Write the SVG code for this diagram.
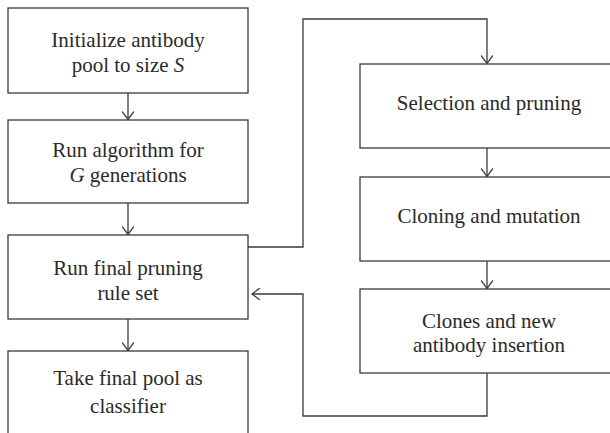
<svg xmlns="http://www.w3.org/2000/svg" width="610" height="433" viewBox="0 0 610 433">
<style>
.box{fill:#fff;stroke:#3a3a3a;stroke-width:1.3}
.t{font-family:'Liberation Serif','DejaVu Serif',serif;font-size:21px;fill:#2a2a2a;text-anchor:middle}
.c{fill:none;stroke:#3a3a3a;stroke-width:1.3}
.ah{fill:none;stroke:#3a3a3a;stroke-width:1.3}
</style>
<defs>
<marker id="arr" viewBox="-10 -6 12 12" refX="0" refY="0" markerWidth="12" markerHeight="12" markerUnits="userSpaceOnUse" orient="auto">
<path d="M-8,-6 L0,0 L-8,6" class="ah"/>
</marker>
</defs>
<rect width="610" height="433" fill="#fff"/>
<g id="n1"><rect class="box" x="8" y="8" width="240" height="85"/><text class="t" x="128" y="47">Initialize antibody</text><text class="t" x="128" y="72">pool to size <tspan font-style="italic">S</tspan></text></g>
<g id="n2"><rect class="box" x="8" y="120" width="240" height="83"/><text class="t" x="128" y="157">Run algorithm for</text><text class="t" x="128" y="182"><tspan font-style="italic">G</tspan> generations</text></g>
<g id="n3"><rect class="box" x="8" y="235" width="240" height="84"/><text class="t" x="128" y="275">Run final pruning</text><text class="t" x="128" y="300">rule set</text></g>
<g id="n4"><rect class="box" x="8" y="351" width="240" height="90"/><text class="t" x="128" y="385">Take final pool as</text><text class="t" x="128" y="413">classifier</text></g>
<g id="nA"><rect class="box" x="360" y="64" width="260" height="84"/><text class="t" x="489" y="110">Selection and pruning</text></g>
<g id="nB"><rect class="box" x="360" y="177" width="260" height="84"/><text class="t" x="489" y="223">Cloning and mutation</text></g>
<g id="nC"><rect class="box" x="360" y="289" width="260" height="84"/><text class="t" x="489" y="328">Clones and new</text><text class="t" x="489" y="352">antibody insertion</text></g>
<g id="connectors">
<path class="c" d="M128,93 V119.5" marker-end="url(#arr)"/>
<path class="c" d="M128,203 V234.5" marker-end="url(#arr)"/>
<path class="c" d="M128,319 V350.5" marker-end="url(#arr)"/>
<path class="c" d="M248,247 H303 V19 H487 V63.5" marker-end="url(#arr)"/>
<path class="c" d="M487,148 V176.5" marker-end="url(#arr)"/>
<path class="c" d="M487,261 V288.5" marker-end="url(#arr)"/>
<path class="c" d="M487,373 V416 H303 V294 H252" marker-end="url(#arr)"/>
</g>
</svg>
